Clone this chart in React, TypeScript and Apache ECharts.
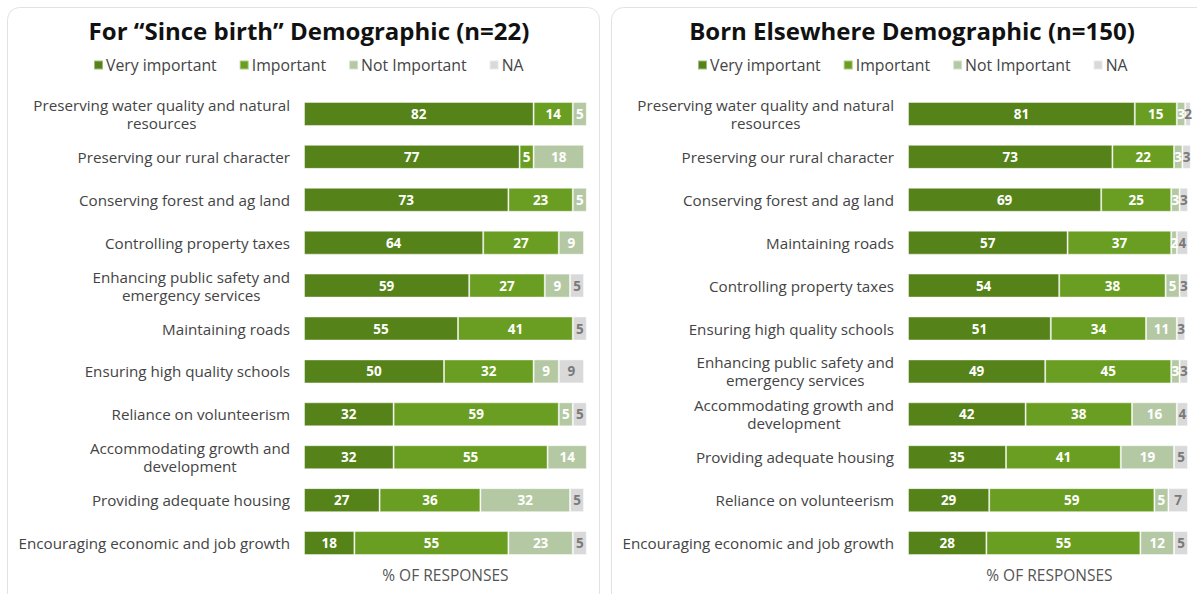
import React, { useEffect, useRef } from "react";
import * as echarts from "echarts";

const seriesNames = ["Very important", "Important", "Not Important", "NA"];
const colors = ["#558219", "#6a9e22", "#b4c9a3", "#d9d9d9"];
const labelColors = ["#ffffff", "#ffffff", "#ffffff", "#7a7a7a"];

const leftTitle = "For \u201cSince birth\u201d Demographic (n=22)";
const rightTitle = "Born Elsewhere Demographic (n=150)";

const leftCategories = [
  "Preserving water quality and natural\nresources",
  "Preserving our rural character",
  "Conserving forest and ag land",
  "Controlling property taxes",
  "Enhancing public safety and\nemergency services",
  "Maintaining roads",
  "Ensuring high quality schools",
  "Reliance on volunteerism",
  "Accommodating growth and\ndevelopment",
  "Providing adequate housing",
  "Encouraging economic and job growth",
];
const leftVery = [82, 77, 73, 64, 59, 55, 50, 32, 32, 27, 18];
const leftImportant = [14, 5, 23, 27, 27, 41, 32, 59, 55, 36, 55];
const leftNot = [5, 18, 5, 9, 9, null, 9, 5, 14, 32, 23];
const leftNA = [null, null, null, null, 5, 5, 9, 5, null, 5, 5];

const rightCategories = [
  "Preserving water quality and natural\nresources",
  "Preserving our rural character",
  "Conserving forest and ag land",
  "Maintaining roads",
  "Controlling property taxes",
  "Ensuring high quality schools",
  "Enhancing public safety and\nemergency services",
  "Accommodating growth and\ndevelopment",
  "Providing adequate housing",
  "Reliance on volunteerism",
  "Encouraging economic and job growth",
];
const rightVery = [81, 73, 69, 57, 54, 51, 49, 42, 35, 29, 28];
const rightImportant = [15, 22, 25, 37, 38, 34, 45, 38, 41, 59, 55];
const rightNot = [3, 3, 3, 2, 5, 11, 3, 16, 19, 5, 12];
const rightNA = [2, 3, 3, 4, 3, 3, 3, 4, 5, 7, 5];

const axisName = "% OF RESPONSES";
const FONT = "'Open Sans', sans-serif";

export default function App() {
  const ref = useRef<HTMLDivElement>(null);
  useEffect(() => {
    if (!ref.current) return;
    const chart = echarts.init(ref.current, null, { renderer: "svg" });
    const leftData = [leftVery, leftImportant, leftNot, leftNA];
    const rightData = [rightVery, rightImportant, rightNot, rightNA];
    const grids = [
      { left: 304, width: 282.8, top: 92.5, height: 472 },
      { left: 908, width: 282.8, top: 92.5, height: 472 },
    ];
    const mkY = (cats: string[], gi: number) => ({
      type: "category",
      gridIndex: gi,
      data: cats,
      inverse: true,
      axisLine: { show: false },
      axisTick: { show: false },
      axisLabel: {
        margin: 14,
        color: "#444",
        fontSize: 15.2,
        fontFamily: FONT,
        formatter: (v: string) =>
          v
            .split("\n")
            .map((l) => `{c|${l}}`)
            .join("\n"),
        rich: {
          c: { align: "center", color: "#444", fontSize: 15.2, fontFamily: FONT, lineHeight: 18 },
        },
      },
    });
    const mkX = (gi: number) => ({
      type: "value",
      gridIndex: gi,
      min: 0,
      max: 101,
      axisLine: { show: false },
      axisTick: { show: false },
      axisLabel: { show: false },
      splitLine: { show: false },
      name: axisName,
      nameLocation: "middle",
      nameGap: 2,
      nameTextStyle: { color: "#555", fontSize: 15.5, fontFamily: FONT },
    });
    const series: any[] = [];
    [leftData, rightData].forEach((dataset, gi) => {
      dataset.forEach((arr, si) => {
        series.push({
          type: "bar",
          name: seriesNames[si],
          xAxisIndex: gi,
          yAxisIndex: gi,
          stack: "s" + gi,
          barWidth: 24,
          data: arr,
          itemStyle: {
            color: colors[si],
            borderColor: "rgba(255,255,255,0.45)",
            borderWidth: 1,
          },
          label: {
            show: true,
            position: "inside",
            color: labelColors[si],
            fontWeight: "bold",
            fontSize: 13.5,
            fontFamily: FONT,
            formatter: (p: any) => (p.value == null ? "" : String(p.value)),
          },
        });
      });
    });
    const legendCommon = {
      data: seriesNames,
      top: 52,
      icon: "rect",
      itemWidth: 9,
      itemHeight: 9,
      itemGap: 22,
      textStyle: { color: "#444", fontSize: 15.8, fontFamily: FONT, padding: [0, 0, 0, -2] },
    };
    chart.setOption({
      animation: false,
      title: [
        {
          text: leftTitle,
          left: 304,
          textAlign: "center",
          top: 13,
          textStyle: { fontSize: 24, fontWeight: "bold", color: "#111", fontFamily: FONT },
        },
        {
          text: rightTitle,
          left: 907,
          textAlign: "center",
          top: 13,
          textStyle: { fontSize: 24, fontWeight: "bold", color: "#111", fontFamily: FONT },
        },
      ],
      legend: [
        { ...legendCommon, left: 88, align: "left" },
        { ...legendCommon, left: 692, align: "left" },
      ],
      grid: grids,
      xAxis: [mkX(0), mkX(1)],
      yAxis: [mkY(leftCategories, 0), mkY(rightCategories, 1)],
      series,
      graphic: [
        {
          type: "rect",
          z: -10,
          shape: { x: 7.5, y: 7.5, width: 592, height: 640, r: 12 },
          style: { fill: "none", stroke: "#e2e2e2", lineWidth: 1 },
        },
        {
          type: "rect",
          z: -10,
          shape: { x: 611.5, y: 7.5, width: 640, height: 640, r: 12 },
          style: { fill: "none", stroke: "#e2e2e2", lineWidth: 1 },
        },
      ],
    });
    return () => chart.dispose();
  }, []);
  return (
    <div
      ref={ref}
      style={{ position: "absolute", left: 0, top: 0, width: 1197, height: 594, background: "#fff" }}
    />
  );
}
